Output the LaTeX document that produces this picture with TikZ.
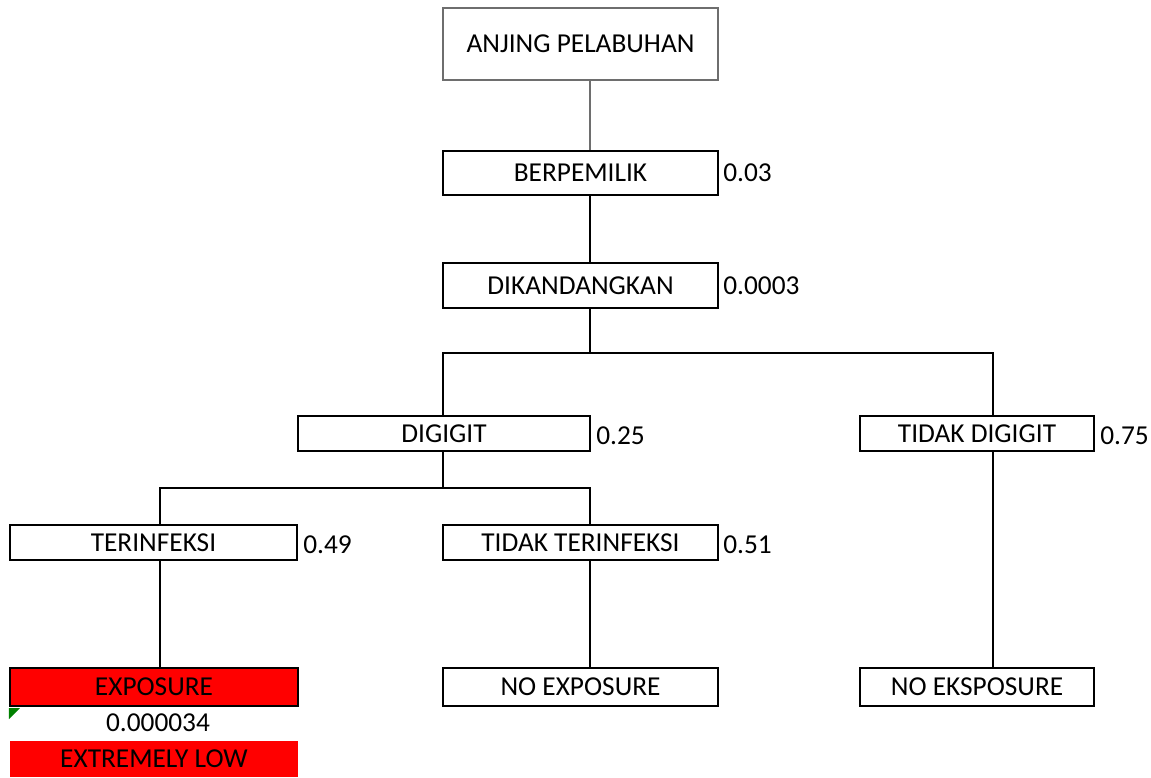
\documentclass[tikz,border=0pt]{standalone}
\usepackage{fontspec}
\setmainfont{Carlito}
\usetikzlibrary{calc}
\definecolor{hazard}{RGB}{255,0,0}
\definecolor{flag}{RGB}{0,128,0}
\definecolor{softline}{RGB}{110,110,110}
\begin{document}
\begin{tikzpicture}[x=0.75pt,y=-0.75pt,
  box/.style={draw=black,line width=1.6pt,fill=white,inner sep=0pt,
    font=\fontsize{20.5}{24}\selectfont,minimum width=206.25pt,minimum height=26.25pt},
  topbox/.style={box,draw=softline,line width=0.9pt,minimum height=54pt},
  risk/.style={box,fill=hazard},
  prob/.style={anchor=west,inner sep=0pt,font=\fontsize{20.5}{24}\selectfont},
  link/.style={line width=1.6pt,draw=black},
  softlink/.style={line width=0.9pt,draw=softline}]
\useasboundingbox (0,0) rectangle (1151,777);

% trunk columns
\coordinate (c590) at (590,0);
\coordinate (c443) at (443,0);
\coordinate (c993) at (993,0);
\coordinate (c160) at (160,0);

% boxes
\node[topbox] (anjing) at (580.5,44) {ANJING PELABUHAN};
\node[box,minimum height=33pt] (milik) at (580.5,173) {BERPEMILIK};
\node[box,minimum height=33.75pt] (kandang) at (580.5,285.5) {DIKANDANGKAN};
\node[box,minimum width=219pt] (gigit) at (444,433.5) {DIGIGIT};
\node[box,minimum width=175.5pt] (tgigit) at (977,433.5) {TIDAK DIGIGIT};
\node[box,minimum width=215.25pt] (infeksi) at (153.5,542.5) {TERINFEKSI};
\node[box] (tinfeksi) at (580.5,542.5) {TIDAK TERINFEKSI};
\node[risk,minimum width=216pt,minimum height=28.5pt] (expo) at (154,687) {EXPOSURE};
\node[box,minimum height=28.5pt] (noexpo) at (580.5,687) {NO EXPOSURE};
\node[box,minimum width=175.5pt,minimum height=28.5pt] (noeks) at (977,687) {NO EKSPOSURE};
\node[risk,draw=none,minimum width=216pt,minimum height=27pt] (low) at (154,759) {EXTREMELY LOW};

% probabilities
\node[prob] (pmilik) at ($(milik.east)+(4,0)$) {0.03};
\node[prob] (pkandang) at ($(kandang.east)+(4,0)$) {0.0003};
\node[prob] (pgigit) at ($(gigit.east)+(5,2)$) {0.25};
\node[prob] (ptgigit) at ($(tgigit.east)+(5,2)$) {0.75};
\node[prob] (pinfeksi) at ($(infeksi.east)+(5,2)$) {0.49};
\node[prob] (ptinfeksi) at ($(tinfeksi.east)+(4,2)$) {0.51};
\node[inner sep=0pt,font=\fontsize{20.5}{24}\selectfont] (pexpo) at (158,723) {0.000034};

% small corner flag
\fill[flag] ($(expo.south west)+(0,1)$) -- ++(11,0) -- ++(-11,11) -- cycle;

% connectors
\draw[softlink] (anjing.south -| c590) -- (milik.north -| c590);
\draw[link] (milik.south -| c590) -- (kandang.north -| c590);
\draw[link] (kandang.south -| c590) -- ++(0,44) coordinate (j1);
\draw[link] (gigit.north -| c443) |- (j1) -| (tgigit.north -| c993);
\draw[link] (gigit.south -| c443) -- ++(0,36) coordinate (j2);
\draw[link] (infeksi.north -| c160) |- (j2) -| (tinfeksi.north -| c590);
\draw[link] (infeksi.south -| c160) -- (expo.north -| c160);
\draw[link] (tinfeksi.south -| c590) -- (noexpo.north -| c590);
\draw[link] (tgigit.south -| c993) -- (noeks.north -| c993);
\end{tikzpicture}
\end{document}
